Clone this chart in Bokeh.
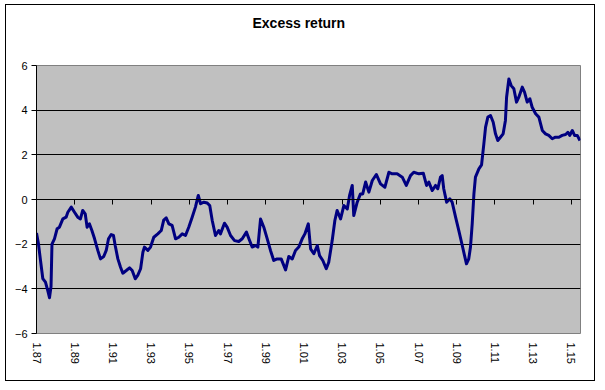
from bokeh.plotting import figure
from bokeh.models import Range1d, FixedTicker, LinearAxis, Title
from bokeh.embed import file_html
from bokeh.resources import INLINE

# ---- data ----
years = [1987.00, 1987.10, 1987.21, 1987.33, 1987.47, 1987.59, 1987.68, 1987.76, 1987.81, 1987.94,
         1988.08, 1988.20, 1988.38, 1988.55, 1988.64, 1988.82, 1988.99, 1989.16, 1989.30, 1989.42,
         1989.55, 1989.65, 1989.77, 1989.90, 1990.04, 1990.21, 1990.35, 1990.52, 1990.65, 1990.77,
         1990.91, 1991.03, 1991.12, 1991.26, 1991.40, 1991.52, 1991.70, 1991.87, 1992.01, 1992.17,
         1992.30, 1992.45, 1992.57, 1992.65, 1992.83, 1992.97, 1993.14, 1993.35, 1993.53, 1993.66,
         1993.79, 1993.93, 1994.10, 1994.28, 1994.45, 1994.63, 1994.80, 1994.97, 1995.15, 1995.32,
         1995.47, 1995.59, 1995.76, 1995.94, 1996.07, 1996.20, 1996.37, 1996.54, 1996.63, 1996.84,
         1996.98, 1997.16, 1997.37, 1997.59, 1997.77, 1997.99, 1998.12, 1998.29, 1998.47, 1998.59,
         1998.73, 1998.90, 1999.08, 1999.25, 1999.42, 1999.60, 1999.81, 2000.04, 2000.21, 2000.39,
         2000.56, 2000.73, 2000.91, 2001.05, 2001.23, 2001.35, 2001.52, 2001.70, 2001.82, 2001.99,
         2002.17, 2002.30, 2002.48, 2002.62, 2002.74, 2002.92, 2003.09, 2003.27, 2003.39, 2003.53,
         2003.61, 2003.79, 2003.96, 2004.08, 2004.23, 2004.40, 2004.58, 2004.79, 2005.01, 2005.24,
         2005.45, 2005.62, 2005.88, 2006.15, 2006.36, 2006.58, 2006.75, 2007.02, 2007.25, 2007.42,
         2007.54, 2007.72, 2007.89, 2008.01, 2008.15, 2008.24, 2008.32, 2008.47, 2008.64, 2008.76,
         2008.94, 2009.11, 2009.29, 2009.41, 2009.51, 2009.63, 2009.72, 2009.81, 2009.90, 2009.98,
         2010.16, 2010.30, 2010.42, 2010.51, 2010.63, 2010.77, 2010.91, 2011.03, 2011.15, 2011.29,
         2011.43, 2011.55, 2011.61, 2011.73, 2011.85, 2011.99, 2012.13, 2012.25, 2012.43, 2012.55,
         2012.69, 2012.83, 2012.95, 2013.13, 2013.30, 2013.48, 2013.65, 2013.82, 2014.00, 2014.17,
         2014.35, 2014.52, 2014.70, 2014.82, 2014.92, 2015.05, 2015.17, 2015.31, 2015.45]

excess = [-1.50, -1.97, -2.73, -3.54, -3.70, -4.08, -4.40, -3.90, -2.00, -1.76,
          -1.31, -1.24, -0.87, -0.79, -0.57, -0.34, -0.57, -0.79, -0.87, -0.49,
          -0.64, -1.24, -1.09, -1.39, -1.76, -2.28, -2.66, -2.55, -2.28, -1.76,
          -1.57, -1.61, -2.06, -2.66, -3.03, -3.30, -3.18, -3.06, -3.18, -3.55,
          -3.40, -3.10, -2.36, -2.13, -2.28, -2.13, -1.69, -1.54, -1.39, -0.92,
          -0.82, -1.09, -1.16, -1.76, -1.69, -1.54, -1.61, -1.24, -0.79, -0.34,
          0.18, -0.19, -0.12, -0.16, -0.27, -0.94, -1.61, -1.39, -1.54, -1.06,
          -1.24, -1.61, -1.84, -1.88, -1.76, -1.46, -1.76, -2.13, -2.06, -2.13,
          -0.87, -1.24, -1.76, -2.28, -2.73, -2.66, -2.66, -3.15, -2.55, -2.66,
          -2.28, -2.13, -1.76, -1.54, -1.09, -2.21, -2.43, -2.06, -2.51, -2.73,
          -3.10, -2.81, -1.84, -0.94, -0.49, -0.87, -0.27, -0.42, 0.18, 0.63,
          -0.72, -0.12, 0.25, 0.25, 0.78, 0.33, 0.85, 1.12, 0.70, 0.55,
          1.22, 1.15, 1.15, 1.00, 0.63, 1.07, 1.22, 1.15, 1.18, 0.63,
          0.78, 0.40, 0.63, 0.48, 1.00, 1.07, 0.48, -0.12, 0.03, -0.12,
          -0.79, -1.39, -2.06, -2.51, -2.88, -2.66, -2.13, -1.09, 0.25, 1.00,
          1.37, 1.55, 2.49, 3.24, 3.69, 3.76, 3.46, 2.94, 2.64, 2.79,
          2.94, 3.54, 4.58, 5.40, 5.10, 4.96, 4.36, 4.58, 5.03, 4.81,
          4.36, 4.51, 4.13, 3.84, 3.69, 3.09, 2.94, 2.87, 2.72, 2.79,
          2.79, 2.87, 2.91, 3.01, 2.87, 3.09, 2.87, 2.87, 2.64]

tick_years = [1987, 1989, 1991, 1993, 1995, 1997, 1999, 2001, 2003, 2005, 2007, 2009, 2011, 2013, 2015]
tick_labels = ["1.87", "1.89", "1.91", "1.93", "1.95", "1.97", "1.99", "1.01",
               "1.03", "1.05", "1.07", "1.09", "1.11", "1.13", "1.15"]
y_ticks = [-6, -4, -2, 0, 2, 4, 6]
grid_ticks = [-4, -2, 0, 2, 4]
title_text = "Excess return"

FONT = "Liberation Sans"

p = figure(width=590, height=377, output_backend="svg", toolbar_location=None,
           x_range=Range1d(1987.0, 2015.48), y_range=Range1d(-6, 6),
           min_border_left=30, min_border_right=16, min_border_bottom=49, min_border_top=60,
           background_fill_color="#C0C0C0", border_fill_color="white")
p.styles = {"border": "1px solid black", "margin": "4px 0 0 5px"}

# spacer between plot area and title, then the title itself
p.add_layout(Title(text=" ", text_font=FONT, text_font_size="14px", standoff=13), "above")
p.add_layout(Title(text=title_text, align="left", offset=216, standoff=8,
                   text_font=FONT, text_font_size="14px", text_font_style="bold",
                   text_color="black"), "above")

p.outline_line_color = "#808080"
p.outline_line_width = 1

# y axis
p.yaxis.ticker = FixedTicker(ticks=y_ticks)
p.yaxis.axis_line_color = "black"
p.yaxis.major_tick_line_color = "black"
p.yaxis.major_tick_in = 0
p.yaxis.major_tick_out = 5
p.yaxis.minor_tick_line_color = None
p.yaxis.major_label_text_font = FONT
p.yaxis.major_label_text_font_size = "11px"
p.yaxis.major_label_text_color = "black"
p.yaxis.major_label_standoff = 4

# x axis crossing at zero: line and ticks only
p.xaxis.fixed_location = 0
p.xaxis.ticker = FixedTicker(ticks=tick_years)
p.xaxis.axis_line_color = "black"
p.xaxis.major_tick_line_color = "black"
p.xaxis.major_tick_in = 0
p.xaxis.major_tick_out = 5
p.xaxis.minor_tick_line_color = None
p.xaxis.major_label_text_font_size = "0px"
p.xaxis.major_label_text_alpha = 0

# x labels at the bottom
lab_axis = LinearAxis(ticker=FixedTicker(ticks=tick_years),
                      major_label_overrides={y: l for y, l in zip(tick_years, tick_labels)},
                      axis_line_color=None, major_tick_line_color=None, minor_tick_line_color=None,
                      major_tick_in=0, major_tick_out=0, major_label_standoff=9,
                      major_label_orientation="vertical",
                      major_label_text_font=FONT, major_label_text_font_size="11px",
                      major_label_text_color="black")
p.add_layout(lab_axis, "below")

p.xgrid.grid_line_color = None
p.ygrid.ticker = FixedTicker(ticks=grid_ticks)
p.ygrid.grid_line_color = "black"
p.ygrid.grid_line_width = 1

p.line(years, excess, line_color="#000080", line_width=3, line_join="round")

open("out.html", "w").write(file_html(p, INLINE))
